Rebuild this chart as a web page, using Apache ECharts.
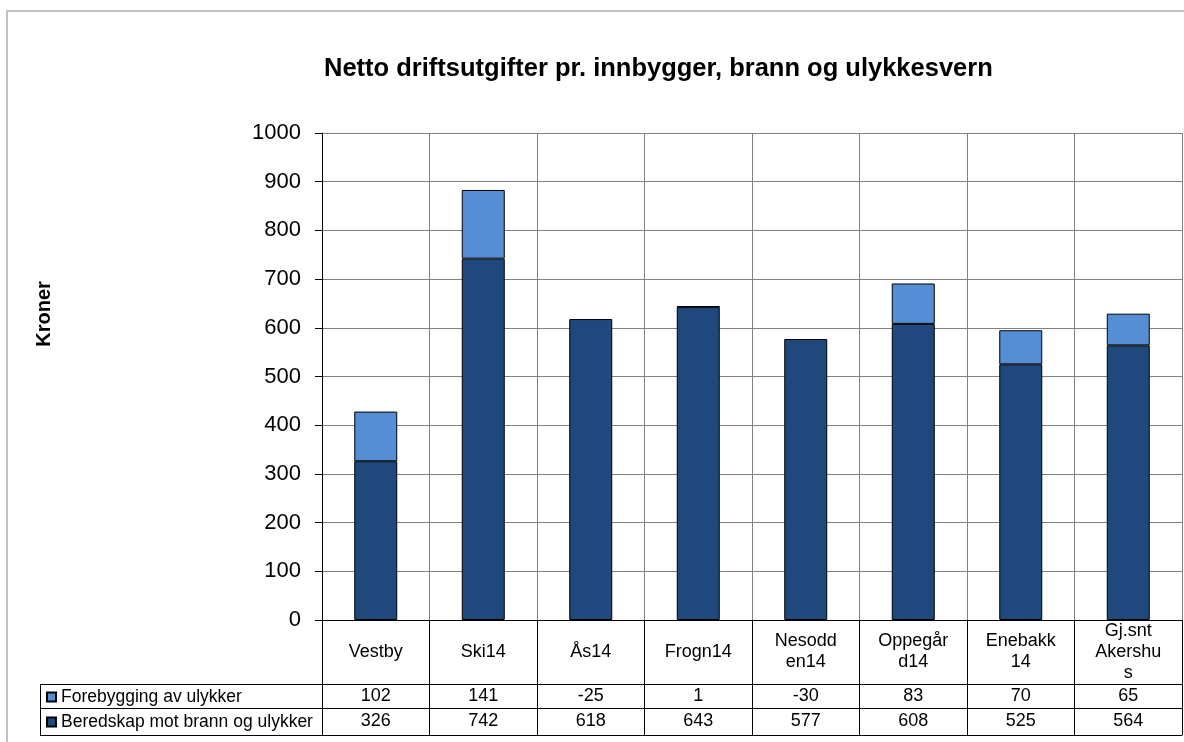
<!DOCTYPE html>
<html>
<head>
<meta charset="utf-8">
<title>Netto driftsutgifter pr. innbygger, brann og ulykkesvern</title>
<script src="https://cdn.jsdelivr.net/npm/echarts@6/dist/echarts.min.js"></script>
<style>
html,body{margin:0;padding:0;background:#fff;}
#chart{width:1184px;height:742px;}
</style>
</head>
<body>
<div id="chart"></div>
<script>

/* =================================
   data
================================= */

const categories=[
"Vestby",
"Ski14",
"Ås14",
"Frogn14",
"Nesodd\nen14",
"Oppegår\nd14",
"Enebakk\n14",
"Gj.snt\nAkershu\ns"
];

const forebygging=[102,141,-25,1,-30,83,70,65];

const beredskap=[326,742,618,643,577,608,525,564];

const yTicks={min:0,max:1000,step:100};

const seriesNames=[
"Forebygging av ulykker",
"Beredskap mot brann og ulykker"
];


/* =================================
   layout
================================= */

const FONT="'Liberation Sans', Arial, sans-serif";

const plotLeft=322;
const plotTop=133;
const plotBottom=620;
const row1=684;   // category row ends
const row2=708;   // forebygging row ends
const row3=735;   // beredskap row ends
const legendLeft=40;

let chart=echarts.init(document.getElementById("chart"));

function hline(y,x1,x2){
return {
type:"line",
shape:{x1:x1,y1:y+0.5,x2:x2,y2:y+0.5},
style:{stroke:"#000",lineWidth:1}
};
}

chart.setOption({

animation:false,

title:{
text:"Netto driftsutgifter pr. innbygger, brann og ulykkesvern",
left:319,
top:51,
textStyle:{
fontFamily:FONT,
fontSize:25.5,
fontWeight:"bold",
color:"#000"
}
},

legend:{
orient:"vertical",
left:46,
top:row1+4,
padding:0,
itemWidth:9,
itemHeight:9,
itemGap:7,
icon:"rect",
data:seriesNames,
textStyle:{
fontFamily:FONT,
fontSize:17.5,
color:"#000"
}
},

grid:{
left:plotLeft,
right:2,
top:plotTop,
bottom:742-plotBottom
},

xAxis:[

{
type:"category",
data:categories,
axisLine:{lineStyle:{color:"#000",width:1}},
axisTick:{show:true,length:row3-plotBottom,lineStyle:{color:"#000"}},
axisLabel:{
interval:0,
margin:32,
verticalAlign:"middle",
lineHeight:21,
fontFamily:FONT,
fontSize:18,
color:"#000"
},
splitLine:{show:true,lineStyle:{color:"#808080",width:1}}
},

{
type:"category",
position:"bottom",
offset:row1-plotBottom,
data:forebygging.map(String),
axisLine:{lineStyle:{color:"#000",width:1}},
axisTick:{show:false},
axisLabel:{
interval:0,
margin:12,
verticalAlign:"middle",
fontFamily:FONT,
fontSize:18,
color:"#000"
}
},

{
type:"category",
position:"bottom",
offset:row2-plotBottom,
data:beredskap.map(String),
axisLine:{lineStyle:{color:"#000",width:1}},
axisTick:{show:false},
axisLabel:{
interval:0,
margin:13.5,
verticalAlign:"middle",
fontFamily:FONT,
fontSize:18,
color:"#000"
}
},

{
type:"category",
position:"bottom",
offset:row3-plotBottom,
data:categories,
axisLine:{lineStyle:{color:"#000",width:1}},
axisTick:{show:false},
axisLabel:{show:false}
}

],

yAxis:{
type:"value",
min:yTicks.min,
max:yTicks.max,
interval:yTicks.step,
axisLine:{show:true,lineStyle:{color:"#000",width:1}},
axisTick:{show:true,length:7,lineStyle:{color:"#000"}},
axisLabel:{
margin:21,
formatter:v=>String(v),
fontFamily:FONT,
fontSize:22,
color:"#000"
},
splitLine:{show:true,lineStyle:{color:"#808080",width:1}}
},

series:[

{
name:seriesNames[1],
type:"bar",
stack:"total",
barWidth:"40%",
data:beredskap,
itemStyle:{color:"#1f497d",borderColor:"#000",borderWidth:1}
},

{
name:seriesNames[0],
type:"bar",
stack:"total",
barWidth:"40%",
data:forebygging,
itemStyle:{color:"#558ed5",borderColor:"#000",borderWidth:1}
}

],

graphic:[

// outer chart border
{
type:"rect",
z:-10,
shape:{x:7,y:11,width:1300,height:800},
style:{fill:"none",stroke:"#c0c0c0",lineWidth:2}
},

// y axis title
{
type:"text",
x:44,
y:314,
rotation:Math.PI/2,
style:{
text:"Kroner",
fontFamily:FONT,
fontSize:20,
fontWeight:"bold",
fill:"#000",
align:"center",
verticalAlign:"middle"
}
},

// legend box of data table
{
type:"line",
shape:{x1:legendLeft+0.5,y1:row1,x2:legendLeft+0.5,y2:row3+1},
style:{stroke:"#000",lineWidth:1}
},
hline(row1,legendLeft,plotLeft),
hline(row2,legendLeft,plotLeft),
hline(row3,legendLeft,plotLeft)

]

});

</script>
</body>
</html>
